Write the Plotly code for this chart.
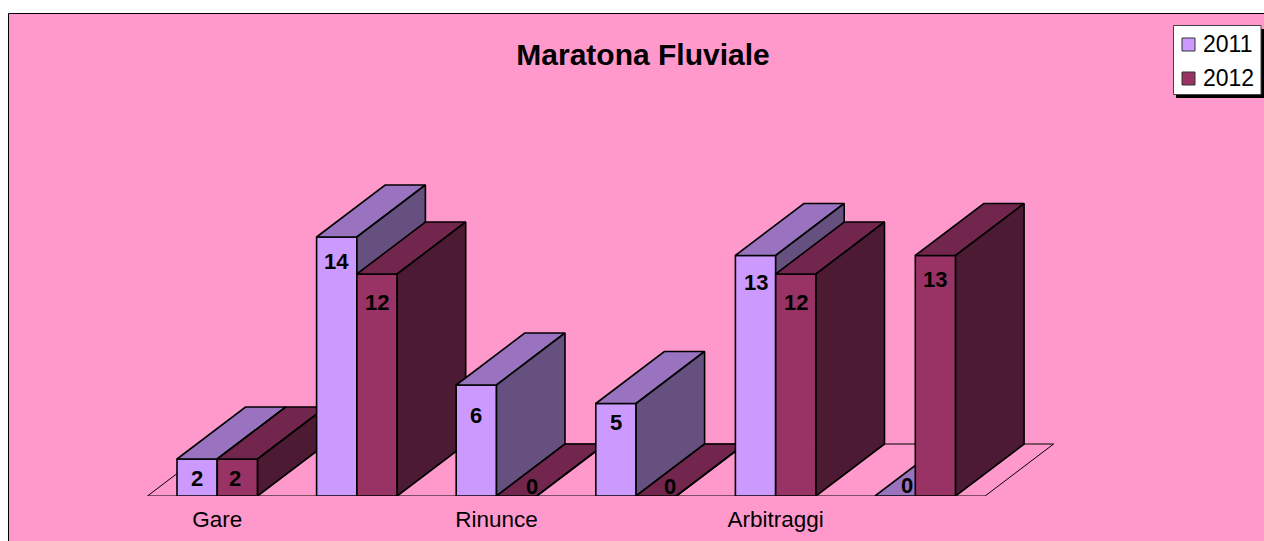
import plotly.graph_objects as go

categories = ["Gare", "", "Rinunce", "", "Arbitraggi", ""]
series_2011 = [2, 14, 6, 5, 13, 0]
series_2012 = [2, 12, 0, 0, 12, 13]
series_names = ["2011", "2012"]
title_text = "Maratona Fluviale"

# style: (front, top, side) shades of each series
colors = [("#CC99FF", "#9973BF", "#665080"), ("#993366", "#73264D", "#4D1A33")]

# data-label nudges in pixels relative to the front-top centre of a bar (positive y = up)
label_shift_2011 = [(0, -19), (0, -24), (0, -30), (0, -19), (0, -27), (12, 11)]
label_shift_2012 = [(-2, -19), (0, -28), (15, 10), (14, 10), (0, -28), (0, -24)]

W, H = 1264, 541
BASE_PX = 496          # pixel row of value 0
UNIT_PX = 18.5         # pixels per value unit
X0_PX = 177            # left edge of the first group
PITCH_PX = 139.6       # pixels per category
BAR_PX = 40.3
DX_PX, DY_PX = 68.5, 52  # depth of the oblique projection

bar_w = BAR_PX / PITCH_PX
dx = DX_PX / PITCH_PX
dy = DY_PX / UNIT_PX


def px(x):
    return x / W


def py(y):
    return (BASE_PX - y) / BASE_PX


fig = go.Figure()


def face(xs, ys, color, width=1.6):
    fig.add_trace(go.Scatter(
        x=xs + xs[:1], y=ys + ys[:1], mode="lines", fill="toself", fillcolor=color,
        line=dict(color="black", width=width), hoverinfo="skip", showlegend=False))


# floor
pad = 29.5 / PITCH_PX
n = len(categories)
fl = -pad
fr = (n - 1) + 2 * bar_w + pad
face([fl, fr, fr + dx, fl + dx], [0, 0, dy, dy], "#FF99CC", 1)

annotations = []
for i in range(n):
    for s, values in enumerate([series_2011, series_2012]):
        v = values[i]
        x0 = i + s * bar_w
        x1 = x0 + bar_w
        front, top, side = colors[s]
        face([x0, x1, x1, x0], [0, 0, v, v], front)
        face([x0, x1, x1 + dx, x0 + dx], [v, v, v + dy, v + dy], top)
        face([x1, x1 + dx, x1 + dx, x1], [0, dy, v + dy, v], side)

for i in range(n):
    for s, (values, shifts) in enumerate([(series_2011, label_shift_2011), (series_2012, label_shift_2012)]):
        annotations.append(dict(
            x=i + (s + 0.5) * bar_w, y=values[i], text=str(values[i]), showarrow=False,
            xshift=shifts[i][0], yshift=shifts[i][1], xanchor="center", yanchor="middle",
            font=dict(family="Liberation Sans", size=22, color="black", weight="bold")))

# legend
shapes = [
    dict(type="rect", xref="paper", yref="paper", layer="below",
         x0=px(8.5), x1=px(1300), y0=py(600), y1=py(13.5),
         fillcolor="#FF99CC", line=dict(color="black", width=1)),
    dict(type="rect", xref="paper", yref="paper", x0=px(1176), x1=px(1264), y0=py(98), y1=py(29),
         fillcolor="black", line=dict(width=0)),
    dict(type="rect", xref="paper", yref="paper", x0=px(1173.5), x1=px(1261), y0=py(94.5), y1=py(25.5),
         fillcolor="white", line=dict(color="#444444", width=1)),
]
for k, name in enumerate(series_names):
    cy = 44.5 + k * 34
    shapes.append(dict(type="rect", xref="paper", yref="paper", x0=px(1182), x1=px(1195),
                       y0=py(cy + 6.5), y1=py(cy - 6.5), fillcolor=colors[k][0],
                       line=dict(color="#333333", width=1)))
    annotations.append(dict(x=px(1201), y=py(cy - 0.5), xref="paper", yref="paper", text=name, showarrow=False,
                            xanchor="left", yanchor="middle",
                            font=dict(family="Liberation Sans", size=23, color="black")))

tick_x = [i + bar_w for i, c in enumerate(categories)]

fig.update_layout(
    width=W, height=H, margin=dict(l=0, r=0, t=0, b=H - BASE_PX, autoexpand=False),
    paper_bgcolor="white", plot_bgcolor="rgba(0,0,0,0)", showlegend=False,
    title=dict(text=title_text, x=643 / W, xanchor="center", y=1 - 54.5 / H, yanchor="middle",
               xref="container", yref="container",
               font=dict(family="Liberation Sans", size=30, color="black", weight="bold")),
    xaxis=dict(range=[-X0_PX / PITCH_PX, (W - X0_PX) / PITCH_PX], showgrid=False, zeroline=False,
               showline=False, tickmode="array", tickvals=tick_x, ticktext=categories,
               ticks="outside", ticklen=3, tickcolor="rgba(0,0,0,0)",
               tickfont=dict(family="Liberation Sans", size=22.5, color="black")),
    yaxis=dict(range=[0, BASE_PX / UNIT_PX], visible=False),
    shapes=shapes, annotations=annotations,
)

fig.write_html("out.html", config=dict(displayModeBar=False),
               post_script="document.body.style.margin='0';document.documentElement.style.overflow='hidden';")
